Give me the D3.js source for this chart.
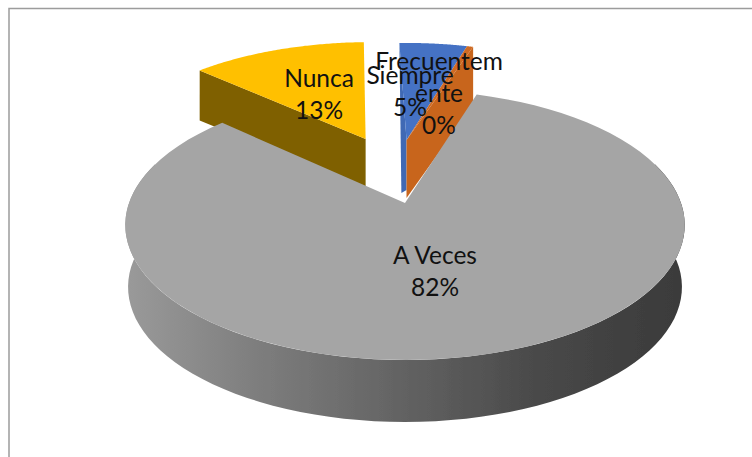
<!DOCTYPE html>
<html>
<head>
<meta charset="utf-8">
<script src="https://cdn.jsdelivr.net/npm/d3@7"></script>
<style>
  html, body { margin: 0; padding: 0; background: #fff; }
  svg { display: block; }
  .labelText { font-family: Lato, sans-serif; font-size: 24.5px; fill: #111; text-anchor: middle; }
</style>
</head>
<body>
<svg id="svg_pie" width="752" height="457"></svg>
<script>
const categories = ['Siempre', 'Frecuentemente', 'A Veces', 'Nunca']
const values = [4.9, 0.45, 82, 12.65]

const svg = d3.select('#svg_pie')

// border of the chart area
svg.append('path')
  .attr('d', 'M9,457V8.5H752')
  .attr('fill', 'none')
  .attr('stroke', '#9c9c9c')
  .attr('stroke-width', 1.5)

const colors = {
  'Siempre': { top: '#4472c4', wall: '#3f69b4' },
  'Frecuentemente': { top: '#cf6a22', wall: '#c8651f' },
  'A Veces': { top: '#a5a5a5' },
  'Nunca': { top: '#ffc000', wall: '#7f6000' },
}

// how far a slice is pulled out of the pie, on the unit disc
const explode = {
  'Siempre': [0.006, -0.52],
  'Frecuentemente': [0.006, -0.52],
  'A Veces': [0, 0],
  'Nunca': [-0.155, -0.53],
}

const cx = 405
const wallDepth = 50
const frontWallDepth = 58
const sideDepth = 62

// perspective view of the unit disc
const project = (u, v) => {
  const w = 1 - 0.163 * v
  return [cx + 276 * u / w, (203 + 98.3 * v) / w]
}

const rimPoint = (a, off) => project(off[0] + Math.sin(a), off[1] - Math.cos(a))
const rimRange = (a0, a1) => d3.range(0, 81).map(i => a0 + (a1 - a0) * i / 80)
const line = d3.line()
const down = (p, h) => [p[0], p[1] + h]

const pieData = d3.pie()
  .sort(null)
  .startAngle(-1.8 * Math.PI / 180)
  .endAngle(2 * Math.PI - 1.8 * Math.PI / 180)(values)
  .map((d, i) => ({ ...d, name: categories[i], off: explode[categories[i]] }))

const defs = svg.append('defs')
const sideGradient = defs.append('linearGradient')
  .attr('id', 'sideShade')
sideGradient.selectAll('stop')
  .data([['0%', '#9a9a9a'], ['25%', '#7c7c7c'], ['50%', '#626262'], ['75%', '#484848'], ['100%', '#3a3a3a']])
  .enter()
  .append('stop')
  .attr('offset', d => d[0])
  .attr('stop-color', d => d[1])

// the reference is a soft, slightly blurred picture
defs.append('filter')
  .attr('id', 'soft')
  .append('feGaussianBlur')
  .attr('stdDeviation', 0.6)

const chart = svg.append('g').attr('filter', 'url(#soft)')

const slice = name => pieData.find(d => d.name === name)

// walls of the pulled slices, back to front
const nunca = slice('Nunca')
const nuncaApex = project(nunca.off[0], nunca.off[1])
const nuncaRim = rimPoint(nunca.startAngle, nunca.off)
chart.append('path')
  .attr('d', line([nuncaRim, nuncaApex, down(nuncaApex, wallDepth), down(nuncaRim, wallDepth)]) + 'Z')
  .attr('fill', colors['Nunca'].wall)

const siempre = slice('Siempre')
const siempreApex = project(siempre.off[0], siempre.off[1])
const siempreRim = rimPoint(siempre.startAngle, siempre.off)
chart.append('path')
  .attr('d', line([siempreRim, siempreApex, down(siempreApex, wallDepth), [siempreRim[0] + 2, siempreApex[1] + wallDepth + 3]]) + 'Z')
  .attr('fill', colors['Siempre'].wall)

const frec = slice('Frecuentemente')
const frecApex = project(frec.off[0], frec.off[1])
const frecRim = rimPoint(frec.endAngle, frec.off)
chart.append('path')
  .attr('d', line([frecRim, frecApex, down(frecApex, frontWallDepth), down(frecRim, frontWallDepth)]) + 'Z')
  .attr('fill', colors['Frecuentemente'].wall)

// top faces of the pulled slices
chart.selectAll('path.topFace')
  .data(pieData.filter(d => d.name !== 'A Veces'))
  .enter()
  .append('path')
  .attr('class', 'topFace')
  .attr('d', d => line([project(d.off[0], d.off[1]), ...rimRange(d.startAngle, d.endAngle).map(a => rimPoint(a, d.off))]) + 'Z')
  .attr('fill', d => colors[d.name].top)

// the big slice: side first, top over it
const veces = slice('A Veces')
const sideTop = rimRange(Math.PI * 0.4, Math.PI * 1.6).map(a => rimPoint(a, veces.off))
const sideBottom = sideTop.map(p => [cx + (p[0] - cx) * 0.99, p[1] + sideDepth]).reverse()
chart.append('path')
  .attr('d', line([...sideTop, ...sideBottom]) + 'Z')
  .attr('fill', 'url(#sideShade)')

chart.append('path')
  .attr('d', line([project(0, 0), ...rimRange(veces.startAngle, veces.endAngle).map(a => rimPoint(a, veces.off))]) + 'Z')
  .attr('fill', colors['A Veces'].top)

// labels
const percent = v => d3.format('.0f')(v) + '%'
const labelLines = [
  ['Nunca', percent(values[3])],
  ['Siempre', percent(values[0])],
  ['Frecuentem', 'ente', percent(values[1])],
  ['A Veces', percent(values[2])],
]
const labelAnchors = [[319, 87], [410, 84], [439, 70], [435, 264]]

const labels = svg.append('g')
labels.selectAll('text')
  .data(labelLines)
  .enter()
  .append('text')
  .attr('class', 'labelText')
  .attr('transform', (d, i) => `translate(${labelAnchors[i][0]},${labelAnchors[i][1]})`)
  .selectAll('tspan')
  .data(d => d)
  .enter()
  .append('tspan')
  .attr('x', 0)
  .attr('dy', (d, i) => i === 0 ? 0 : 32)
  .text(d => d)
</script>
</body>
</html>
